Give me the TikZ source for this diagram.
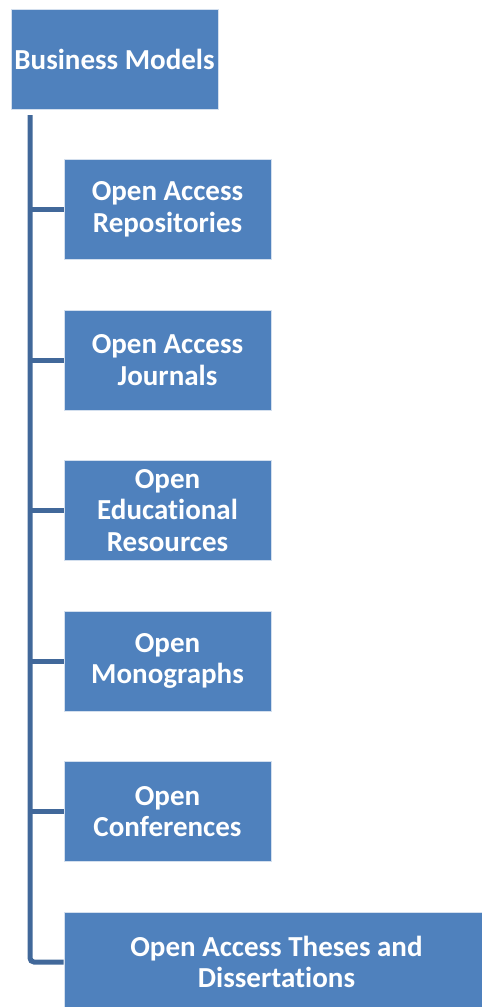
\documentclass[tikz,border=0pt]{standalone}
\usepackage{fontspec}
\setmainfont[Ligatures=NoCommon]{Carlito}
\usepackage{tikz}
\usetikzlibrary{positioning}
\definecolor{boxblue}{HTML}{4F81BD}
\definecolor{linkblue}{HTML}{41689A}

\begin{document}
\begin{tikzpicture}[x=1pt, y=-1pt,
    item/.style={rectangle, draw=white!75!boxblue, fill=boxblue, line width=0.8pt,
      minimum width=207pt, minimum height=100pt, inner sep=0pt, align=center,
      text=white, font=\fontsize{29}{31.5}\selectfont\bfseries},
    link/.style={draw=linkblue, line width=5pt}]
  \useasboundingbox (0,0) rectangle (482,1007);
  \clip (0,0) rectangle (482,1007);
  % top box
  \node[item] (bm) at (114.5,59) {Business Models};
  % child boxes
  \node[item] (oar) at (167.5,209.5) {Open Access\\Repositories};
  \node[item] (oaj) at (167.5,360) {Open Access\\Journals};
  \node[item] (oer) at (167.5,510.5) {Open\\Educational\\Resources};
  \node[item] (om) at (167.5,661) {Open\\Monographs};
  \node[item] (oc) at (167.5,811.5) {Open\\Conferences};
  \node[item, minimum width=425pt] (oatd) at (276.5,962) {Open Access Theses and\\Dissertations};
  % trunk line and stubs
  \coordinate (trunk) at (30,115);
  \draw[link, rounded corners=4pt] (trunk) |- (oatd.west);
  \foreach \c in {oar,oaj,oer,om,oc}
    \draw[link] (trunk |- \c.west) -- (\c.west);
\end{tikzpicture}
\end{document}
